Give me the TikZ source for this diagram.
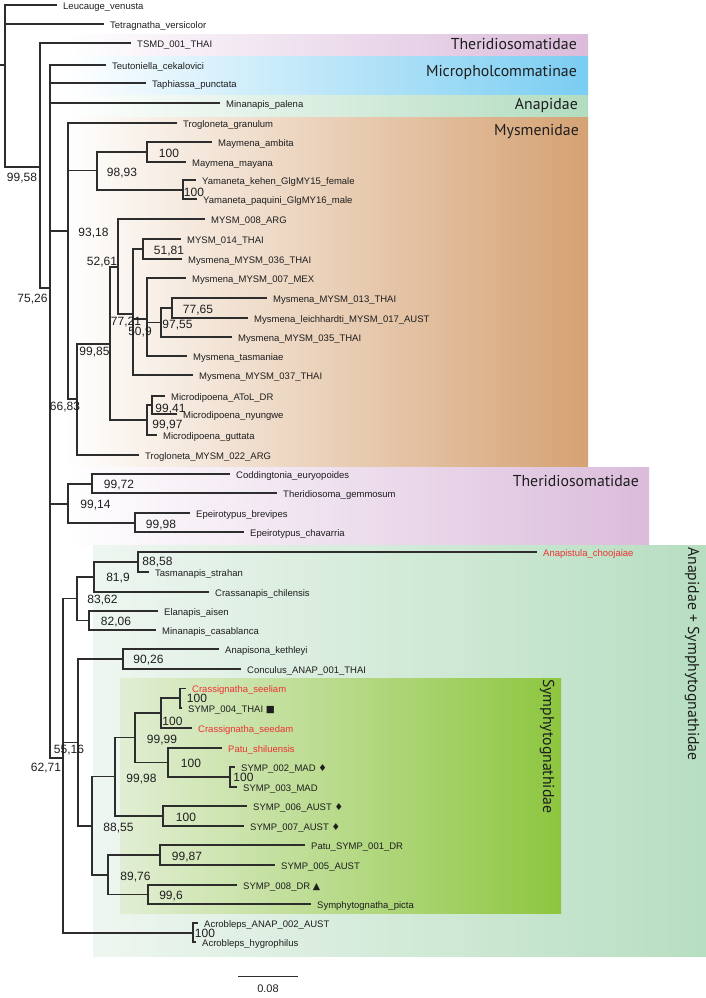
\documentclass[tikz,border=0pt]{standalone}
\usepackage{fontspec}
\setmainfont{Liberation Sans}
\newfontfamily\labfont{PT Sans}
\newfontfamily\symfont{DejaVu Sans}
\definecolor{brc}{RGB}{45,45,45}
\definecolor{txc}{RGB}{30,30,30}
\definecolor{redc}{RGB}{237,50,50}
\definecolor{pinkc}{RGB}{219,188,219}
\definecolor{bluec}{RGB}{122,205,242}
\definecolor{agc}{RGB}{178,220,192}
\definecolor{orc}{RGB}{213,162,115}
\definecolor{ogc}{RGB}{183,222,193}
\definecolor{ogl}{RGB}{238,246,240}
\definecolor{sgc}{RGB}{141,198,63}
\definecolor{sgl}{RGB}{226,238,212}
\begin{document}
\begin{tikzpicture}[x=1pt,y=-1pt,
  br/.style={draw=brc, line width=1.2pt},
  tx/.style={anchor=west, inner xsep=6pt, inner ysep=0pt, text height=8.6pt, text depth=0pt, font=\fontsize{9.5}{11}\selectfont, text=txc},
  txr/.style={tx, text=redc},
  bs/.style={anchor=center, inner sep=0pt, text height=8.6pt, text depth=0pt, font=\fontsize{12}{14}\selectfont, text=txc},
  bigl/.style={inner sep=0pt, font=\labfont\fontsize{15.8}{18}\selectfont, text=txc}]
\useasboundingbox (0,0) rectangle (706,998);
% ---------- background bands ----------
\fill[left color=white, right color=pinkc] (65,35) rectangle (588,57);
\fill[left color=white, right color=bluec] (65,57) rectangle (588,95);
\fill[left color=white, right color=agc] (65,95) rectangle (588,117);
\fill[left color=white, right color=orc] (65,117) rectangle (588,467);
\fill[left color=white, right color=pinkc] (65,467) rectangle (649,545);
\fill[left color=ogl, right color=ogc] (93,545) rectangle (706,956);
\fill[left color=sgl, right color=sgc] (120,678) rectangle (561,913);
% group labels
\node[bigl, anchor=base east] (gTh1) at (577,50) {Theridiosomatidae};
\node[bigl, anchor=base east] (gMic) at (577,76) {Micropholcommatinae};
\node[bigl, anchor=base east] (gAna) at (578,109.5) {Anapidae};
\node[bigl, anchor=base east] (gMys) at (579,135) {Mysmenidae};
\node[bigl, anchor=base east] (gTh2) at (639,486) {Theridiosomatidae};
\node[bigl, rotate=-90, anchor=base west] (gAS) at (688,547) {Anapidae + Symphytognathidae};
\node[bigl, rotate=-90, anchor=base west] (gSy) at (543,679) {Symphytognathidae};
% ---------- internal nodes ----------
\coordinate (r0) at (5,65);
\coordinate (rs) at (0,65);
\coordinate (nA) at (40,167);
\coordinate (nB) at (50,288);
\coordinate (nG) at (68,231);
\coordinate (nI) at (97,170.5);
\coordinate (nMay) at (147,152);
\coordinate (nYam) at (183,190);
\coordinate (nH) at (77,399);
\coordinate (nK) at (110,344);
\coordinate (nL) at (118,267);
\coordinate (nN) at (133,314);
\coordinate (nO) at (143,249);
\coordinate (nP) at (147,319);
\coordinate (nQ) at (161,322.5);
\coordinate (nR) at (172,308);
\coordinate (nM) at (147,420);
\coordinate (nS) at (152,405);
\coordinate (nT) at (68,504);
\coordinate (nU) at (92,484);
\coordinate (nV) at (135,523);
\coordinate (nD) at (63,758);
\coordinate (nW) at (77,598.5);
\coordinate (nX) at (94,577);
\coordinate (nY) at (138,562);
\coordinate (nZ) at (89,620.5);
\coordinate (nE) at (78,742.5);
\coordinate (nAA) at (123,659);
\coordinate (nAB) at (92,826);
\coordinate (nAC) at (115,776.5);
\coordinate (nAE) at (135,737.5);
\coordinate (nAG) at (161,713);
\coordinate (nAI) at (180,698);
\coordinate (nAH) at (168,762.5);
\coordinate (nAJ) at (230,777);
\coordinate (nAF) at (163,816);
\coordinate (nAD) at (108,875);
\coordinate (nAK) at (160,855);
\coordinate (nAL) at (148,894.5);
\coordinate (nAc) at (193,933);
% ---------- leaves ----------
\node[tx] (Leu) at (57,5) {Leucauge\_venusta};
\node[tx] (Tet) at (104,24) {Tetragnatha\_versicolor};
\node[tx] (TSMD) at (131,43) {TSMD\_001\_THAI};
\node[tx] (Teu) at (106,65) {Teutoniella\_cekalovici};
\node[tx] (Tap) at (146,83) {Taphiassa\_punctata};
\node[tx] (MinP) at (220,103) {Minanapis\_palena};
\node[tx] (TroG) at (177,123) {Trogloneta\_granulum};
\node[tx] (MayA) at (212,142) {Maymena\_ambita};
\node[tx] (MayM) at (186,162) {Maymena\_mayana};
\node[tx] (YamK) at (196,180) {Yamaneta\_kehen\_GlgMY15\_female};
\node[tx] (YamP) at (197,199) {Yamaneta\_paquini\_GlgMY16\_male};
\node[tx] (M008) at (205,219) {MYSM\_008\_ARG};
\node[tx] (M014) at (181,239) {MYSM\_014\_THAI};
\node[tx] (M036) at (182,259) {Mysmena\_MYSM\_036\_THAI};
\node[tx] (M007) at (186,278) {Mysmena\_MYSM\_007\_MEX};
\node[tx] (M013) at (267,298) {Mysmena\_MYSM\_013\_THAI};
\node[tx] (Lei) at (248,318) {Mysmena\_leichhardti\_MYSM\_017\_AUST};
\node[tx] (M035) at (232,337) {Mysmena\_MYSM\_035\_THAI};
\node[tx] (Tas) at (187,356) {Mysmena\_tasmaniae};
\node[tx] (M037) at (193,375) {Mysmena\_MYSM\_037\_THAI};
\node[tx] (AToL) at (165,396) {Microdipoena\_AToL\_DR};
\node[tx] (Nyu) at (177,414) {Microdipoena\_nyungwe};
\node[tx] (Gut) at (157,435) {Microdipoena\_guttata};
\node[tx] (Tro22) at (139,455) {Trogloneta\_MYSM\_022\_ARG};
\node[tx] (Cod) at (230,474) {Coddingtonia\_euryopoides};
\node[tx] (The) at (277,493) {Theridiosoma\_gemmosum};
\node[tx] (Bre) at (190,513) {Epeirotypus\_brevipes};
\node[tx] (Cha) at (244,532) {Epeirotypus\_chavarria};
\node[txr] (Apc) at (537,552) {Anapistula\_choojaiae};
\node[tx] (TasS) at (149,572) {Tasmanapis\_strahan};
\node[tx] (Cra) at (209,592) {Crassanapis\_chilensis};
\node[tx] (Ela) at (158,611) {Elanapis\_aisen};
\node[tx] (Cas) at (156,630) {Minanapis\_casablanca};
\node[tx] (AnaK) at (219,649) {Anapisona\_kethleyi};
\node[tx] (Con) at (241,669) {Conculus\_ANAP\_001\_THAI};
\node[txr] (See) at (186,688.5) {Crassignatha\_seeliam};
\node[tx] (S004) at (182,708) {SYMP\_004\_THAI {\symfont ■}};
\node[txr] (Sed) at (192,728) {Crassignatha\_seedam};
\node[txr] (PatS) at (222,748) {Patu\_shiluensis};
\node[tx] (S002) at (235,767) {SYMP\_002\_MAD {\symfont ♦}};
\node[tx] (S003) at (237,787) {SYMP\_003\_MAD};
\node[tx] (S006) at (247,806) {SYMP\_006\_AUST {\symfont ♦}};
\node[tx] (S007) at (244,826) {SYMP\_007\_AUST {\symfont ♦}};
\node[tx] (P001) at (305,845) {Patu\_SYMP\_001\_DR};
\node[tx] (S005) at (275,865) {SYMP\_005\_AUST};
\node[tx] (S008) at (237,885) {SYMP\_008\_DR {\symfont ▲}};
\node[tx] (Pic) at (311,904) {Symphytognatha\_picta};
\node[tx] (AcA) at (198,923) {Acrobleps\_ANAP\_002\_AUST};
\node[tx] (AcH) at (196,942) {Acrobleps\_hygrophilus};
% ---------- branches ----------
\draw[br] (rs) -- (r0);
\draw[br] (r0) |- (Leu.west);
\draw[br] (r0) |- (Tet.west);
\draw[br] (r0) |- (nA);
\draw[br] (nA) |- (TSMD.west);
\draw[br] (nA) |- (nB);
\draw[br] (nB) |- (Teu.west);
\draw[br] (nB) |- (Tap.west);
\draw[br] (nB) |- (MinP.west);
\draw[br] (nB) |- (nG);
\draw[br] (nB) |- (nT);
\draw[br] (nB) |- (nD);
\draw[br] (nG) |- (TroG.west);
\draw[br] (nG) |- (nI);
\draw[br] (nG) |- (nH);
\draw[br] (nI) |- (nMay);
\draw[br] (nI) |- (nYam);
\draw[br] (nMay) |- (MayA.west);
\draw[br] (nMay) |- (MayM.west);
\draw[br] (nYam) |- (YamK.west);
\draw[br] (nYam) |- (YamP.west);
\draw[br] (nH) |- (nK);
\draw[br] (nH) |- (Tro22.west);
\draw[br] (nK) |- (nL);
\draw[br] (nK) |- (nM);
\draw[br] (nL) |- (M008.west);
\draw[br] (nL) |- (nN);
\draw[br] (nN) |- (nO);
\draw[br] (nN) |- (nP);
\draw[br] (nN) |- (M037.west);
\draw[br] (nO) |- (M014.west);
\draw[br] (nO) |- (M036.west);
\draw[br] (nP) |- (M007.west);
\draw[br] (nP) |- (nQ);
\draw[br] (nP) |- (Tas.west);
\draw[br] (nQ) |- (nR);
\draw[br] (nQ) |- (M035.west);
\draw[br] (nR) |- (M013.west);
\draw[br] (nR) |- (Lei.west);
\draw[br] (nM) |- (nS);
\draw[br] (nM) |- (Gut.west);
\draw[br] (nS) |- (AToL.west);
\draw[br] (nS) |- (Nyu.west);
\draw[br] (nT) |- (nU);
\draw[br] (nT) |- (nV);
\draw[br] (nU) |- (Cod.west);
\draw[br] (nU) |- (The.west);
\draw[br] (nV) |- (Bre.west);
\draw[br] (nV) |- (Cha.west);
\draw[br] (nD) |- (nW);
\draw[br] (nD) |- (nE);
\draw[br] (nD) |- (nAc);
\draw[br] (nW) |- (nX);
\draw[br] (nW) |- (nZ);
\draw[br] (nX) |- (nY);
\draw[br] (nX) |- (Cra.west);
\draw[br] (nY) |- (Apc.west);
\draw[br] (nY) |- (TasS.west);
\draw[br] (nZ) |- (Ela.west);
\draw[br] (nZ) |- (Cas.west);
\draw[br] (nE) |- (nAA);
\draw[br] (nE) |- (nAB);
\draw[br] (nAA) |- (AnaK.west);
\draw[br] (nAA) |- (Con.west);
\draw[br] (nAB) |- (nAC);
\draw[br] (nAB) |- (nAD);
\draw[br] (nAC) |- (nAE);
\draw[br] (nAC) |- (nAF);
\draw[br] (nAE) |- (nAG);
\draw[br] (nAE) |- (nAH);
\draw[br] (nAG) |- (nAI);
\draw[br] (nAG) |- (Sed.west);
\draw[br] (nAI) |- (See.west);
\draw[br] (nAI) |- (S004.west);
\draw[br] (nAH) |- (PatS.west);
\draw[br] (nAH) |- (nAJ);
\draw[br] (nAJ) |- (S002.west);
\draw[br] (nAJ) |- (S003.west);
\draw[br] (nAF) |- (S006.west);
\draw[br] (nAF) |- (S007.west);
\draw[br] (nAD) |- (nAK);
\draw[br] (nAD) |- (nAL);
\draw[br] (nAK) |- (P001.west);
\draw[br] (nAK) |- (S005.west);
\draw[br] (nAL) |- (S008.west);
\draw[br] (nAL) |- (Pic.west);
\draw[br] (nAc) |- (AcA.west);
\draw[br] (nAc) |- (AcH.west);
% ---------- support values ----------
\node[bs] (b01) at (22,177) {99,58};
\node[bs] (b02) at (32.5,298) {75,26};
\node[bs] (b03) at (169,153) {100};
\node[bs] (b04) at (122,172) {98,93};
\node[bs] (b05) at (194,192) {100};
\node[bs] (b06) at (93.5,232) {93,18};
\node[bs] (b07) at (102,261) {52,61};
\node[bs] (b08) at (169,250) {51,81};
\node[bs] (b09) at (126,321) {77,21};
\node[bs] (b10) at (140,331) {50,9};
\node[bs] (b11) at (198,309) {77,65};
\node[bs] (b12) at (177.5,324) {97,55};
\node[bs] (b13) at (94.5,351) {99,85};
\node[bs] (b14) at (65,406.5) {66,83};
\node[bs] (b15) at (170.5,408) {99,41};
\node[bs] (b16) at (167.5,424) {99,97};
\node[bs] (b17) at (119,484) {99,72};
\node[bs] (b18) at (95.5,504) {99,14};
\node[bs] (b19) at (161,524) {99,98};
\node[bs] (b20) at (157.5,561) {88,58};
\node[bs] (b21) at (118,577) {81,9};
\node[bs] (b22) at (102.5,599) {83,62};
\node[bs] (b23) at (116,621) {82,06};
\node[bs] (b24) at (148.5,659) {90,26};
\node[bs] (b25) at (197,698.3) {100};
\node[bs] (b26) at (172.5,721) {100};
\node[bs] (b27) at (162,739) {99,99};
\node[bs] (b28) at (191,763) {100};
\node[bs] (b29) at (243.5,777) {100};
\node[bs] (b30) at (141.5,778) {99,98};
\node[bs] (b31) at (69,749) {55,16};
\node[bs] (b32) at (46,767) {62,71};
\node[bs] (b33) at (186,817) {100};
\node[bs] (b34) at (118.5,827) {88,55};
\node[bs] (b35) at (187,856) {99,87};
\node[bs] (b36) at (135.5,876) {89,76};
\node[bs] (b37) at (171,895) {99,6};
\node[bs] (b38) at (205,933) {100};
% ---------- scale bar ----------
\coordinate (sb1) at (238,976);
\coordinate (sb2) at (298,976);
\draw[br, line width=1pt] (sb1) -- (sb2);
\node[inner sep=0pt, font=\fontsize{11}{13}\selectfont, text=txc] (sbl) at (268,989) {0.08};
\end{tikzpicture}
\end{document}
